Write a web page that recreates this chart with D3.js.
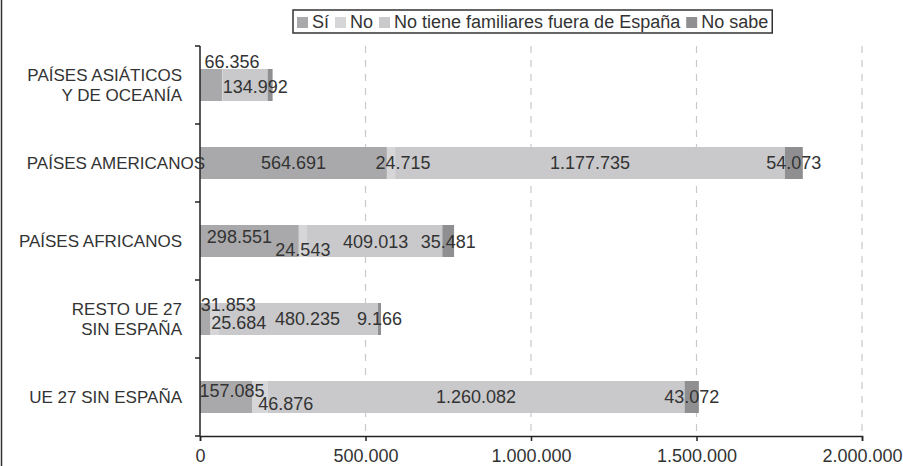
<!DOCTYPE html>
<html>
<head>
<meta charset="utf-8">
<script src="https://cdn.jsdelivr.net/npm/d3@7"></script>
<style>
  body { margin: 0; background: #fff; }
  svg text { font-family: "Liberation Sans", Arial, sans-serif; fill: #333; }
</style>
</head>
<body>
<div id="chart"></div>
<script>
// Categories, top to bottom
const categories = ['PAÍSES ASIÁTICOS\nY DE OCEANÍA', 'PAÍSES AMERICANOS', 'PAÍSES AFRICANOS', 'RESTO UE 27\nSIN ESPAÑA', 'UE 27 SIN ESPAÑA'];
const seriesNames = ['Sí', 'No', 'No tiene familiares fuera de España', 'No sabe'];

// Series values (same order as categories)
const si = [66356, 564691, 298551, 31853, 157085];
const no = [3000, 24715, 24543, 25684, 46876];
const noTiene = [134992, 1177735, 409013, 480235, 1260082];
const noSabe = [15000, 54073, 35481, 9166, 43072];

// Axis ticks
const xTicks = [0, 500000, 1000000, 1500000, 2000000];

// label tweaks (dx, dy in px) keyed "category index-series index", to reproduce where labels sit
const labelNudge = {
  '0-0': [21, -23], '0-2': [10, 2],
  '1-1': [12, 0],
  '2-0': [-10, -4], '2-1': [0, 9], '2-2': [1, 1], '2-3': [0, 1],
  '3-0': [23, -14], '3-1': [24, 4], '3-2': [9, 0],
  '4-0': [6, -6], '4-1': [26, 7]
};
const hiddenLabels = ['0-1', '0-3'];
const colors = ['#a9a9ab', '#d6d6d8', '#c9c9cb', '#8f8f91'];

class StackedBars {

  constructor(_config) {
    this.config = {
      parentElement: _config.parentElement,
      containerWidth: _config.containerWidth || 903,
      containerHeight: _config.containerHeight || 466,
      margin: _config.margin || {top: 46, right: 41, bottom: 30, left: 200},
    }
    this.initVis();
  }

  initVis() {
    let vis = this;
    vis.width = vis.config.containerWidth - vis.config.margin.left - vis.config.margin.right;
    vis.height = vis.config.containerHeight - vis.config.margin.top - vis.config.margin.bottom;

    vis.xScale = d3.scaleLinear().domain([0, 2000000]).range([0, vis.width]);
    vis.yScale = d3.scaleBand().domain(categories).range([0, vis.height])
      .paddingInner(0.59).paddingOuter(0.295);

    vis.fmt = d3.formatLocale({decimal: ',', thousands: '.', grouping: [3], currency: ['', '€']}).format(',d');

    vis.svg = d3.select(vis.config.parentElement).append('svg')
      .attr('width', vis.config.containerWidth)
      .attr('height', vis.config.containerHeight);

    // left frame line of the original figure
    vis.svg.append('line')
      .attr('x1', 1.5).attr('x2', 1.5).attr('y1', 0).attr('y2', vis.config.containerHeight)
      .attr('stroke', '#333').attr('stroke-width', 1.5);

    vis.chart = vis.svg.append('g')
      .attr('transform', `translate(${vis.config.margin.left},${vis.config.margin.top})`);

    vis.table = categories.map((c, i) => ({cat: c, 0: si[i], 1: no[i], 2: noTiene[i], 3: noSabe[i]}));
    vis.stacked = d3.stack().keys([0, 1, 2, 3])(vis.table);

    vis.renderVis();
  }

  renderVis() {
    let vis = this;

    // dashed gridlines
    vis.chart.selectAll('.grid')
      .data(xTicks.slice(1))
      .join('line')
      .attr('class', 'grid')
      .attr('x1', d => vis.xScale(d)).attr('x2', d => vis.xScale(d))
      .attr('y1', 0).attr('y2', vis.height)
      .attr('stroke', '#c8c8c8').attr('stroke-width', 1.2)
      .attr('stroke-dasharray', '7,7');

    // bars
    const layers = vis.chart.selectAll('.layer')
      .data(vis.stacked)
      .join('g')
      .attr('class', 'layer')
      .attr('fill', d => colors[d.key]);

    layers.selectAll('rect')
      .data(d => d)
      .join('rect')
      .attr('x', d => vis.xScale(d[0]))
      .attr('y', d => vis.yScale(d.data.cat))
      .attr('width', d => vis.xScale(d[1]) - vis.xScale(d[0]))
      .attr('height', vis.yScale.bandwidth());

    // x axis
    const xAxis = d3.axisBottom(vis.xScale).tickValues(xTicks).tickFormat(vis.fmt).tickSize(5).tickPadding(8);
    const xAxisG = vis.chart.append('g')
      .attr('transform', `translate(0,${vis.height})`)
      .call(xAxis);
    xAxisG.select('.domain').attr('stroke', '#222').attr('stroke-width', 1.5);
    xAxisG.selectAll('.tick line').attr('stroke', '#222').attr('stroke-width', 1.5);
    xAxisG.selectAll('.tick text').attr('font-size', 18).attr('fill', '#333')
      .attr('font-family', '"Liberation Sans", Arial, sans-serif');

    // y axis line with ticks between categories
    vis.chart.append('line')
      .attr('x1', 0).attr('x2', 0).attr('y1', 0).attr('y2', vis.height)
      .attr('stroke', '#222').attr('stroke-width', 1.5);
    const step = vis.yScale.step();
    vis.chart.selectAll('.ytick')
      .data(d3.range(categories.length + 1))
      .join('line')
      .attr('class', 'ytick')
      .attr('x1', -5).attr('x2', 0)
      .attr('y1', i => i * step).attr('y2', i => i * step)
      .attr('stroke', '#222').attr('stroke-width', 1.5);

    // category labels
    const catLabels = vis.chart.selectAll('.cat')
      .data(categories)
      .join('text')
      .attr('class', 'cat')
      .attr('font-size', 17)
      .attr('text-anchor', 'end')
      .attr('x', d => d === 'PAÍSES AMERICANOS' ? 5 : -18)
      .attr('y', d => vis.yScale(d) + vis.yScale.bandwidth() / 2);
    catLabels.selectAll('tspan')
      .data(d => d.split('\n').map((t, i, a) => ({t, i, n: a.length})))
      .join('tspan')
      .attr('x', function() { return d3.select(this.parentNode).attr('x'); })
      .attr('dy', d => d.i === 0 ? (6 - (d.n - 1) * 10) + 'px' : '20px')
      .text(d => d.t);

    // data labels
    const labelData = [];
    vis.stacked.forEach(layer => {
      layer.forEach((d, ci) => {
        const k = ci + '-' + layer.key;
        if (hiddenLabels.includes(k)) return;
        const nudge = labelNudge[k] || [0, 0];
        labelData.push({d, k, nudge, value: d[1] - d[0]});
      });
    });
    vis.chart.selectAll('.val')
      .data(labelData)
      .join('text')
      .attr('class', 'val')
      .attr('font-size', 18)
      .attr('text-anchor', 'middle')
      .attr('x', l => (vis.xScale(l.d[0]) + vis.xScale(l.d[1])) / 2 + l.nudge[0])
      .attr('y', l => vis.yScale(l.d.data.cat) + vis.yScale.bandwidth() / 2 + 6 + l.nudge[1])
      .text(l => vis.fmt(l.value));

    // legend
    const legend = vis.svg.append('g').attr('transform', 'translate(293,10)');
    const legendBox = legend.append('rect')
      .attr('x', 0).attr('y', 0).attr('height', 23)
      .attr('fill', '#fff').attr('stroke', '#333').attr('stroke-width', 1.5);
    let lx = 4;
    seriesNames.forEach((name, i) => {
      legend.append('rect')
        .attr('x', lx).attr('y', 7).attr('width', 11).attr('height', 11)
        .attr('fill', colors[i]);
      const t = legend.append('text')
        .attr('x', lx + 15).attr('y', 18)
        .attr('font-size', 18)
        .text(name);
      lx += 15 + t.node().getComputedTextLength() + 6;
    });
    legendBox.attr('width', lx - 2);
  }
}

new StackedBars({parentElement: '#chart'});
</script>
</body>
</html>
